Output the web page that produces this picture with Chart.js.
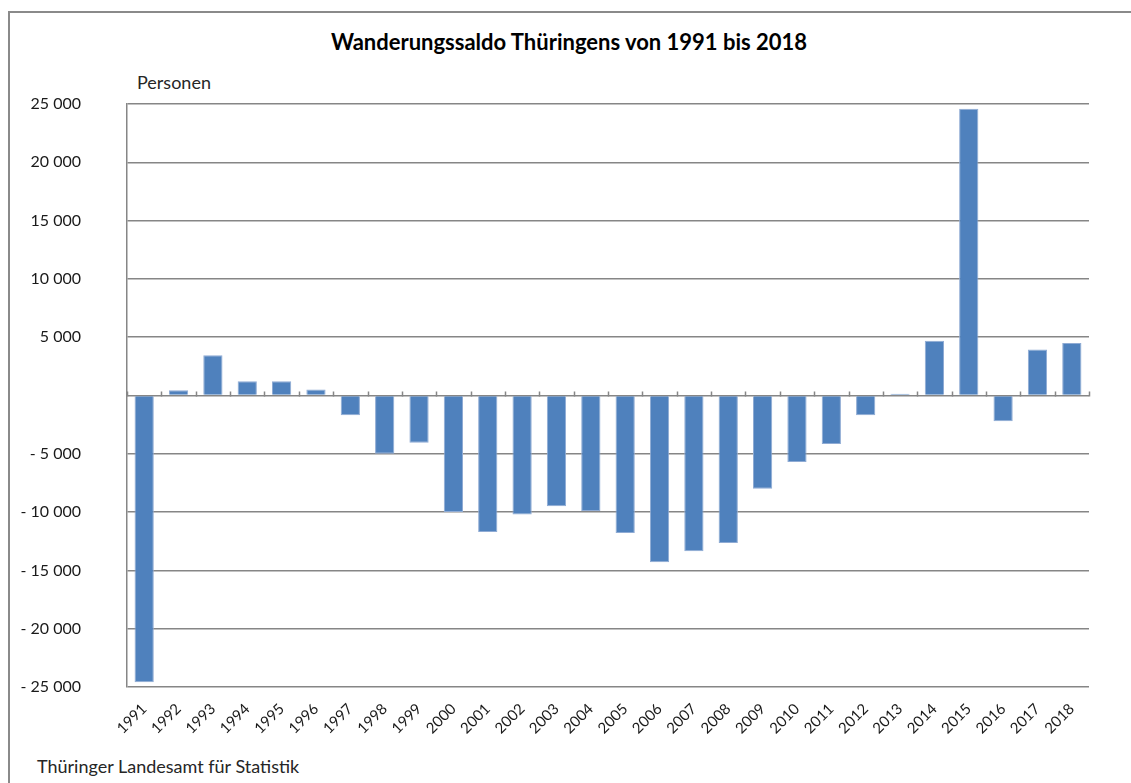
<!DOCTYPE html>
<html>
<head>
<meta charset="utf-8">
<script src="https://cdn.jsdelivr.net/npm/chart.js@4.4.1/dist/chart.umd.min.js"></script>
<style>
  html, body { margin: 0; padding: 0; background: #fff; }
  #wrap { position: relative; width: 1131px; height: 783px; overflow: hidden; font-family: Lato, "Open Sans", sans-serif; color: #1a1a1a; }
  #frame { position: absolute; left: 8px; top: 11px; width: 1130px; height: 780px; border-top: 2px solid #8a8a8a; border-left: 2px solid #8a8a8a; box-sizing: border-box; }
  #title { position: absolute; left: 0; width: 1138px; top: 29px; line-height: 1.2; text-align: center; font-weight: bold; font-size: 22px; color: #000; }
  #unit { position: absolute; left: 137px; top: 72px; line-height: 1.2; font-size: 18px; color: #262626; }
  #source { position: absolute; left: 37px; top: 756px; line-height: 1.2; font-size: 18px; color: #262626; }
  canvas { position: absolute; left: 0; top: 0; }
</style>
</head>
<body>
<div id="wrap">
  <div id="frame"></div>
  <div id="title">Wanderungssaldo Thüringens von 1991 bis 2018</div>
  <div id="unit">Personen</div>
  <div id="source">Thüringer Landesamt für Statistik</div>
  <canvas id="c" width="1131" height="783"></canvas>
</div>
<script>
const years = ['1991','1992','1993','1994','1995','1996','1997','1998','1999','2000',
  '2001','2002','2003','2004','2005','2006','2007','2008','2009','2010',
  '2011','2012','2013','2014','2015','2016','2017','2018'];
const saldo = [-24600, 450, 3450, 1230, 1230, 520, -1700, -5000, -4060, -10000,
  -11700, -10200, -9500, -9900, -11800, -14300, -13350, -12650, -8000, -5700,
  -4150, -1700, 150, 4700, 24600, -2200, 3950, 4500];
const yMin = -25000, yMax = 25000, yStep = 5000;

function fmt(v) {
  if (v === 0) return '';
  const s = Math.abs(v).toString().replace(/\B(?=(\d{3})+(?!\d))/g, ' ');
  return v < 0 ? '- ' + s : s;
}

const tickPlugin = {
  id: 'zeroTicks',
  afterDatasetsDraw(chart) {
    const x = chart.scales.x, y = chart.scales.y, ctx = chart.ctx;
    const y0 = Math.round(y.getPixelForValue(0)) + 0.5;
    ctx.save();
    ctx.strokeStyle = '#868686';
    ctx.lineWidth = 1.5;
    ctx.beginPath();
    for (let i = 0; i <= years.length; i++) {
      const px = Math.round(x.getPixelForValue(i - 0.5)) + 0.5;
      ctx.moveTo(px, y0);
      ctx.lineTo(px, y0 - 5);
    }
    ctx.stroke();
    ctx.restore();
  }
};

new Chart(document.getElementById('c'), {
  type: 'bar',
  data: {
    labels: years,
    datasets: [{
      data: saldo,
      backgroundColor: '#4f81bd',
      borderColor: '#8fabd4',
      borderWidth: 1,
      categoryPercentage: 1.0,
      barPercentage: 0.56
    }]
  },
  options: {
    responsive: false,
    animation: false,
    devicePixelRatio: 1,
    layout: { padding: { top: 104, right: 42, left: 0, bottom: 0 } },
    plugins: { legend: { display: false }, tooltip: { enabled: false }, title: { display: false } },
    scales: {
      x: {
        grid: { display: false, drawTicks: false },
        border: { display: false },
        ticks: {
          minRotation: 45, maxRotation: 45, autoSkip: false, padding: 13,
          color: '#1a1a1a', font: { family: 'Lato', size: 15 }
        },
        afterFit(scale) { scale.height = 783 - 687; }
      },
      y: {
        min: yMin, max: yMax,
        grid: { color: '#868686', lineWidth: 1.5, drawTicks: false },
        border: { display: true, color: '#868686', width: 1.5 },
        ticks: {
          stepSize: yStep, padding: 46,
          color: '#1a1a1a', font: { family: 'Lato', size: 16 },
          callback: (v) => fmt(v)
        },
        afterFit(scale) { scale.width = 127; }
      }
    }
  },
  plugins: [tickPlugin]
});
</script>
</body>
</html>
